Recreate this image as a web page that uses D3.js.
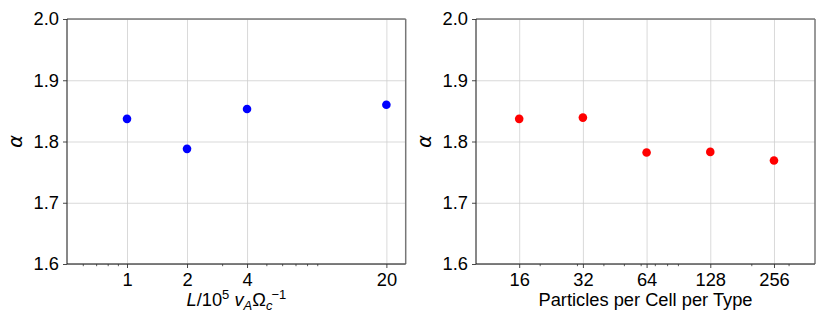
<!DOCTYPE html>
<html><head><meta charset="utf-8">
<script src="https://cdn.jsdelivr.net/npm/d3@7"></script>
<style>
body{margin:0;background:#fff;}
svg{display:block;font-family:"Liberation Sans",Arial,sans-serif;}
</style></head>
<body>
<svg id="c" width="830" height="332"></svg>
<script>
// ---- data ----
const lengthValues = [1, 2, 4, 20];
const lengthAlpha = [1.837, 1.788, 1.853, 1.860];
const lengthTicks = [1, 2, 4, 20];
const lengthMinor = [0.6, 0.7, 0.8, 0.9, 3, 5, 6, 7, 8, 9];

const ppcValues = [16, 32, 64, 128, 256];
const ppcAlpha = [1.837, 1.839, 1.782, 1.783, 1.769];
const ppcTicks = [16, 32, 64, 128, 256];
const ppcMinor = [20, 30, 40, 50, 60, 70, 80, 90, 200, 300];

const yTicks = [1.6, 1.7, 1.8, 1.9, 2.0];

const svg = d3.select("#c");
const FS = 18.3;

function panel(opt){
  const {left, right, top, bottom, xDomain, xs, ys, ticks, minor, color, xlabel} = opt;
  const x = d3.scaleLog().domain(xDomain).range([left, right]);
  const y = d3.scaleLinear().domain([1.6, 2.0]).range([bottom, top]);
  const g = svg.append("g");

  // grid
  g.append("g").attr("transform", `translate(0,${bottom})`)
    .call(d3.axisBottom(x).tickValues(ticks).tickSize(-(bottom-top)).tickFormat(""))
    .call(s=>{s.select(".domain").remove(); s.selectAll("line").attr("stroke","#cfcfcf").attr("stroke-width",0.8);});
  g.append("g").attr("transform", `translate(${left},0)`)
    .call(d3.axisLeft(y).tickValues(yTicks).tickSize(-(right-left)).tickFormat(""))
    .call(s=>{s.select(".domain").remove(); s.selectAll("line").attr("stroke","#cfcfcf").attr("stroke-width",0.8);});

  // spines
  g.append("line").attr("x1",left).attr("x2",right).attr("y1",top).attr("y2",top).attr("stroke","#777").attr("stroke-width",1.5);
  g.append("line").attr("x1",right).attr("x2",right).attr("y1",top).attr("y2",bottom).attr("stroke","#777").attr("stroke-width",1.5);
  g.append("line").attr("x1",left).attr("x2",right).attr("y1",bottom).attr("y2",bottom).attr("stroke","#555").attr("stroke-width",1.5);
  g.append("line").attr("x1",left).attr("x2",left).attr("y1",top).attr("y2",bottom).attr("stroke","#111").attr("stroke-width",1);

  // x axis major
  g.append("g").attr("transform", `translate(0,${bottom})`)
    .call(d3.axisBottom(x).tickValues(ticks).tickSize(4).tickPadding(5).tickFormat(d3.format("d")))
    .call(s=>{s.select(".domain").remove();
      s.selectAll("line").attr("stroke","#333").attr("stroke-width",0.9);
      s.selectAll("text").attr("font-size",FS).attr("fill","#000").attr("font-family","Liberation Sans, Arial, sans-serif");});
  // x axis minor
  g.append("g").attr("transform", `translate(0,${bottom})`)
    .call(d3.axisBottom(x).tickValues(minor).tickSize(2.2).tickFormat(""))
    .call(s=>{s.select(".domain").remove(); s.selectAll("line").attr("stroke","#333").attr("stroke-width",0.8);});
  // y axis
  g.append("g").attr("transform", `translate(${left},0)`)
    .call(d3.axisLeft(y).tickValues(yTicks).tickSize(4).tickPadding(4).tickFormat(d3.format(".1f")))
    .call(s=>{s.select(".domain").remove();
      s.selectAll("line").attr("stroke","#333").attr("stroke-width",0.9);
      s.selectAll("text").attr("font-size",FS).attr("fill","#000").attr("font-family","Liberation Sans, Arial, sans-serif");});

  // points
  g.selectAll("circle.pt").data(xs.map((v,i)=>[v, ys[i]])).enter().append("circle")
    .attr("class","pt").attr("cx",d=>x(d[0])).attr("cy",d=>y(d[1])).attr("r",4.3).attr("fill",color);

  // y label
  g.append("text").attr("transform",`translate(${left-45},${(top+bottom)/2}) rotate(-90)`)
    .attr("text-anchor","middle").attr("font-size",FS+1).attr("font-style","italic")
    .attr("font-family","DejaVu Sans, sans-serif").text("α");

  xlabel(g, (left+right)/2);
}

panel({left:67, right:405.7, top:19, bottom:264, xDomain:[0.5,25], xs:lengthValues, ys:lengthAlpha,
  ticks:lengthTicks, minor:lengthMinor, color:"#0000ff",
  xlabel:(g,cx)=>{
    const t = g.append("text").attr("x",cx).attr("y",306).attr("text-anchor","middle").attr("font-size",FS);
    const sm = 13;
    t.append("tspan").attr("font-style","italic").text("L");
    t.append("tspan").text("/10");
    t.append("tspan").attr("font-size",sm).attr("dy",-7).text("5");
    t.append("tspan").attr("dy",7).text("\u00a0");
    t.append("tspan").attr("font-style","italic").text("v");
    t.append("tspan").attr("font-style","italic").attr("font-size",sm).attr("dy",4).text("A");
    t.append("tspan").attr("dy",-4).text("Ω");
    t.append("tspan").attr("font-style","italic").attr("font-size",sm).attr("dy",4).text("c");
    t.append("tspan").attr("font-size",sm).attr("dx",-1).attr("dy",-11).text("−1");
  }});

panel({left:476, right:815, top:19, bottom:264, xDomain:[10,400], xs:ppcValues, ys:ppcAlpha,
  ticks:ppcTicks, minor:ppcMinor, color:"#ff0000",
  xlabel:(g,cx)=>{
    g.append("text").attr("x",cx).attr("y",306).attr("text-anchor","middle").attr("font-size",FS)
      .text("Particles per Cell per Type");
  }});
</script>
</body></html>
